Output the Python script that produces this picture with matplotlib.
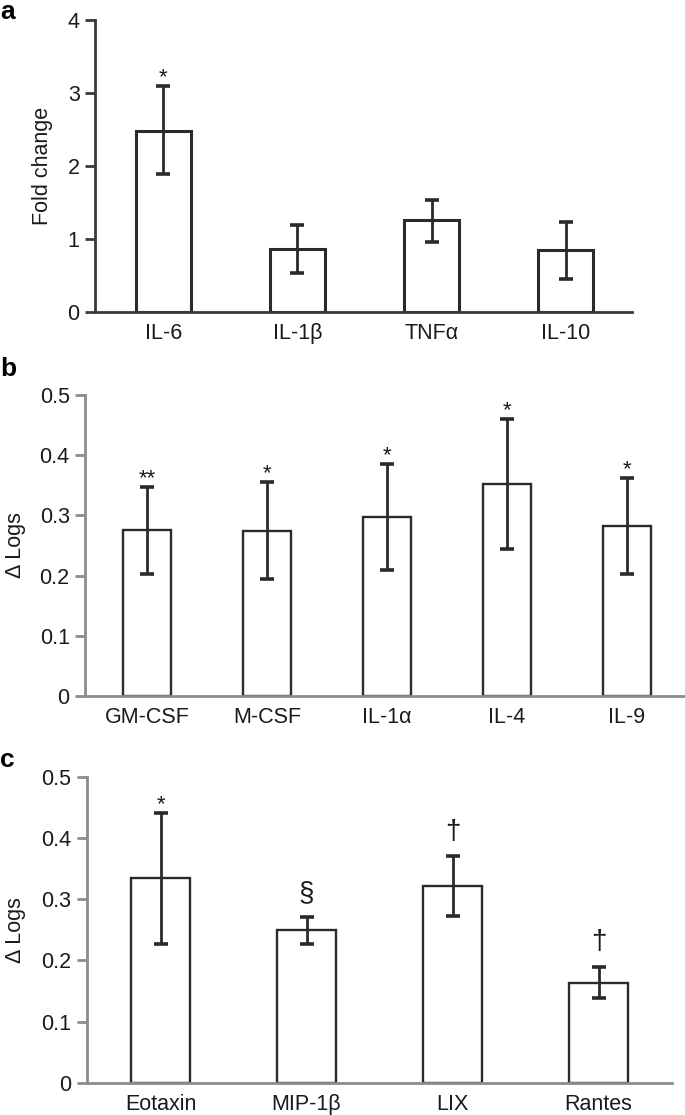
import matplotlib
matplotlib.use("Agg")
import matplotlib.pyplot as plt
import matplotlib.transforms as mtransforms

plt.rcParams['font.family'] = ['Liberation Sans', 'DejaVu Sans']

# Panel a: fold change
a_labels = ["IL-6", "IL-1β", "TNFα", "IL-10"]
a_means = [2.48, 0.86, 1.26, 0.85]
a_upper = [3.09, 1.19, 1.54, 1.23]
a_lower = [1.89, 0.535, 0.965, 0.457]
a_marks = ["*", "", "", ""]

# Panel b: delta logs
b_labels = ["GM-CSF", "M-CSF", "IL-1α", "IL-4", "IL-9"]
b_means = [0.2755, 0.274, 0.298, 0.3515, 0.283]
b_upper = [0.3476, 0.3548, 0.385, 0.4595, 0.3625]
b_lower = [0.2034, 0.194, 0.210, 0.2445, 0.2034]
b_marks = ["**", "*", "*", "*", "*"]

# Panel c: delta logs
c_labels = ["Eotaxin", "MIP-1β", "LIX", "Rantes"]
c_means = [0.334, 0.25, 0.322, 0.164]
c_upper = [0.441, 0.2707, 0.371, 0.190]
c_lower = [0.2266, 0.2266, 0.2734, 0.138]
c_marks = ["*", "§", "†", "†"]

W, H = 685, 1115
fig = plt.figure(figsize=(W / 100, H / 100), dpi=100)


def panel(rect, labels, means, upper, lower, marks, ylim, yticks, ylabel,
          xlim, width, spine_col, bar_lw, ylabel_x, letter, letter_y):
    ax = fig.add_axes(rect)
    x = list(range(len(labels)))
    err = [[m - lo for m, lo in zip(means, lower)],
           [u - m for m, u in zip(means, upper)]]
    ax.bar(x, means, width=width, color="white", edgecolor="#2a2a2a",
           linewidth=bar_lw, zorder=2)
    ax.errorbar(x, means, yerr=err, fmt="none", ecolor="#2a2a2a",
                elinewidth=2.0, capsize=4.8, capthick=2.6, zorder=3)
    for xi, u, s in zip(x, upper, marks):
        if not s:
            continue
        if s == "*" or s == "**":
            dy, fs = -1.5, 16
        else:
            dy, fs = 8, 20
        ax.annotate(s, (xi, u), xytext=(0, dy), textcoords="offset points",
                    ha="center", va="bottom", fontsize=fs, color="#1a1a1a")
    ax.set_xlim(*xlim)
    ax.set_ylim(*ylim)
    ax.set_yticks(yticks)
    ax.set_yticklabels([("%g" % t) for t in yticks])
    ax.set_xticks(x)
    ax.set_xticklabels(labels)
    for sp in ["top", "right"]:
        ax.spines[sp].set_visible(False)
    for sp in ["left", "bottom"]:
        ax.spines[sp].set_color(spine_col)
        ax.spines[sp].set_linewidth(2.0)
    ax.tick_params(axis="y", direction="out", length=7, width=2.0,
                   color=spine_col, labelsize=15.5, pad=4, labelcolor="#1a1a1a")
    ax.tick_params(axis="x", length=0, labelsize=15.5, pad=8,
                   labelcolor="#1a1a1a")
    ax.set_ylabel(ylabel, fontsize=15.5, color="#1a1a1a")
    trans = mtransforms.blended_transform_factory(fig.transFigure, ax.transAxes)
    ax.yaxis.set_label_coords(ylabel_x, 0.5, transform=trans)
    fig.text(0.0, letter_y, letter, fontsize=19, fontweight="bold",
             ha="left", va="top")
    return ax


panel([95 / W, 1 - 312 / H, (632 - 95) / W, (312 - 20) / H],
      a_labels, a_means, a_upper, a_lower, a_marks,
      (0, 4), [0, 1, 2, 3, 4], "Fold change",
      (-0.511, 3.496), 0.41, "#3a3a3a", 2.2, 53 / W, "a", 1 - 0 / H)

panel([85 / W, 1 - 696 / H, (685 - 85) / W, (696 - 395) / H],
      b_labels, b_means, b_upper, b_lower, b_marks,
      (0, 0.5), [0, 0.1, 0.2, 0.3, 0.4, 0.5], "Δ Logs",
      (-0.517, 4.483), 0.40, "#8c8c8c", 1.7, 26 / W, "b", 1 - 357 / H)

panel([86.5 / W, 1 - 1083 / H, (672 - 86.5) / W, (1083 - 776.7) / H],
      c_labels, c_means, c_upper, c_lower, c_marks,
      (0, 0.5), [0, 0.1, 0.2, 0.3, 0.4, 0.5], "Δ Logs",
      (-0.507, 3.503), 0.404, "#8c8c8c", 1.7, 26 / W, "c", 1 - 748 / H)

fig.savefig("out.png", dpi=100)
